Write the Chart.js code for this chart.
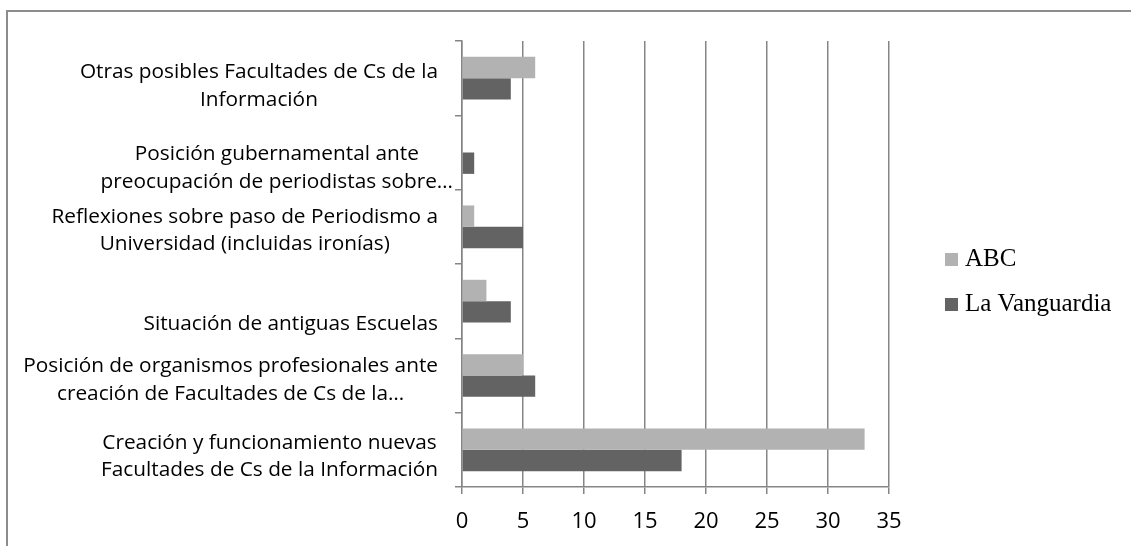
<!DOCTYPE html>
<html>
<head>
<meta charset="utf-8">
<script src="https://cdn.jsdelivr.net/npm/chart.js@4/dist/chart.umd.min.js"></script>
<style>
  html, body { margin: 0; padding: 0; background: #fff; }
  canvas { display: block; }
</style>
</head>
<body>
<canvas id="grafico" width="1131" height="546"></canvas>
<script>
// categorias (de arriba a abajo, como en la imagen)
var categorias = [
  ['Otras posibles Facultades de Cs de la', 'Información'],
  ['Posición gubernamental ante', 'preocupación de periodistas sobre…'],
  ['Reflexiones sobre paso de Periodismo a', 'Universidad (incluidas ironías)'],
  ['Situación de antiguas Escuelas'],
  ['Posición de organismos profesionales ante', 'creación de Facultades de Cs de la…'],
  ['Creación y funcionamiento nuevas', 'Facultades de Cs de la Información']
];
var seriesNombres = ['ABC', 'La Vanguardia'];
var valoresABC = [6, 0, 1, 2, 5, 33];
var valoresVanguardia = [4, 1, 5, 4, 6, 18];
var ticksX = [0, 5, 10, 15, 20, 25, 30, 35];

var colorGris = '#858585';
var coloresSeries = ['#b2b2b2', '#636363'];
var fuenteEtiquetas = '20.8px "Open Sans"';
var fuenteLeyenda = '25px "Liberation Serif"';

// pequeños ajustes de posicion de las etiquetas (como las coloca Excel)
var ajusteY = [8, 16, 4, 23, 5, 7];
var ajusteX = [0, 15, 0, 0, 0, 0];

var marcoPlugin = {
  id: 'marco',
  beforeDraw: function (chart) {
    var ctx = chart.ctx;
    ctx.save();
    ctx.fillStyle = '#fff';
    ctx.fillRect(0, 0, chart.width, chart.height);
    ctx.strokeStyle = '#8c8c8c';
    ctx.lineWidth = 2;
    ctx.beginPath();
    ctx.moveTo(7, chart.height);
    ctx.lineTo(7, 11);
    ctx.lineTo(chart.width, 11);
    ctx.stroke();
    ctx.restore();
  }
};

var etiquetasPlugin = {
  id: 'etiquetasCategorias',
  afterDraw: function (chart) {
    var ctx = chart.ctx;
    var ejeY = chart.scales.y;
    var area = chart.chartArea;
    ctx.save();
    ctx.font = fuenteEtiquetas;
    ctx.fillStyle = '#000';
    ctx.textAlign = 'center';
    ctx.textBaseline = 'alphabetic';
    var interlinea = 27.5;
    categorias.forEach(function (lineas, i) {
      var ancho = 0;
      lineas.forEach(function (l) { ancho = Math.max(ancho, ctx.measureText(l).width); });
      var derecha = area.left - 24 + ajusteX[i];
      var cx = derecha - ancho / 2;
      var cy = ejeY.getPixelForValue(i) + ajusteY[i];
      lineas.forEach(function (l, j) {
        var y = cy + (j - (lineas.length - 1) / 2) * interlinea + 5.6;
        ctx.fillText(l, cx, y);
      });
    });

    // leyenda
    ctx.font = fuenteLeyenda;
    ctx.textAlign = 'left';
    var x0 = area.right + 56;
    var y0 = (area.top + area.bottom) / 2 - 11;
    chart.data.datasets.forEach(function (ds, k) {
      var top = y0 + k * 45;
      ctx.fillStyle = ds.backgroundColor;
      ctx.fillRect(x0, top, 13, 13);
      ctx.fillStyle = '#000';
      ctx.fillText(ds.label, x0 + 20, top + 13);
    });
    ctx.restore();
  }
};

var ctx = document.getElementById('grafico').getContext('2d');
var grafico = new Chart(ctx, {
  type: 'bar',
  data: {
    labels: categorias,
    datasets: [{
      label: seriesNombres[0],
      data: valoresABC,
      backgroundColor: coloresSeries[0],
      borderWidth: 0,
      categoryPercentage: 0.575,
      barPercentage: 1
    }, {
      label: seriesNombres[1],
      data: valoresVanguardia,
      backgroundColor: coloresSeries[1],
      borderWidth: 0,
      categoryPercentage: 0.575,
      barPercentage: 1
    }]
  },
  options: {
    indexAxis: 'y',
    responsive: false,
    animation: false,
    devicePixelRatio: 1,
    layout: {
      padding: { top: 41, right: 242, bottom: 0, left: 0 }
    },
    plugins: {
      legend: { display: false },
      tooltip: { enabled: false }
    },
    scales: {
      x: {
        min: 0,
        max: 35,
        afterBuildTicks: function (scale) {
          scale.ticks = ticksX.map(function (v) { return { value: v }; });
        },
        afterFit: function (scale) { scale.height = 59; },
        grid: {
          color: colorGris,
          lineWidth: 1.5,
          drawTicks: true,
          tickLength: 7,
          tickColor: colorGris
        },
        border: { color: colorGris, width: 1.5 },
        ticks: {
          color: '#000',
          font: { family: 'Open Sans', size: 22 },
          padding: 15,
          maxRotation: 0
        }
      },
      y: {
        afterFit: function (scale) { scale.width = 462; },
        grid: {
          drawOnChartArea: false,
          drawTicks: true,
          tickLength: 7,
          color: colorGris,
          lineWidth: 1.5,
          offset: true
        },
        border: { color: colorGris, width: 1.5 },
        ticks: { display: false }
      }
    }
  },
  plugins: [marcoPlugin, etiquetasPlugin]
});
</script>
</body>
</html>
